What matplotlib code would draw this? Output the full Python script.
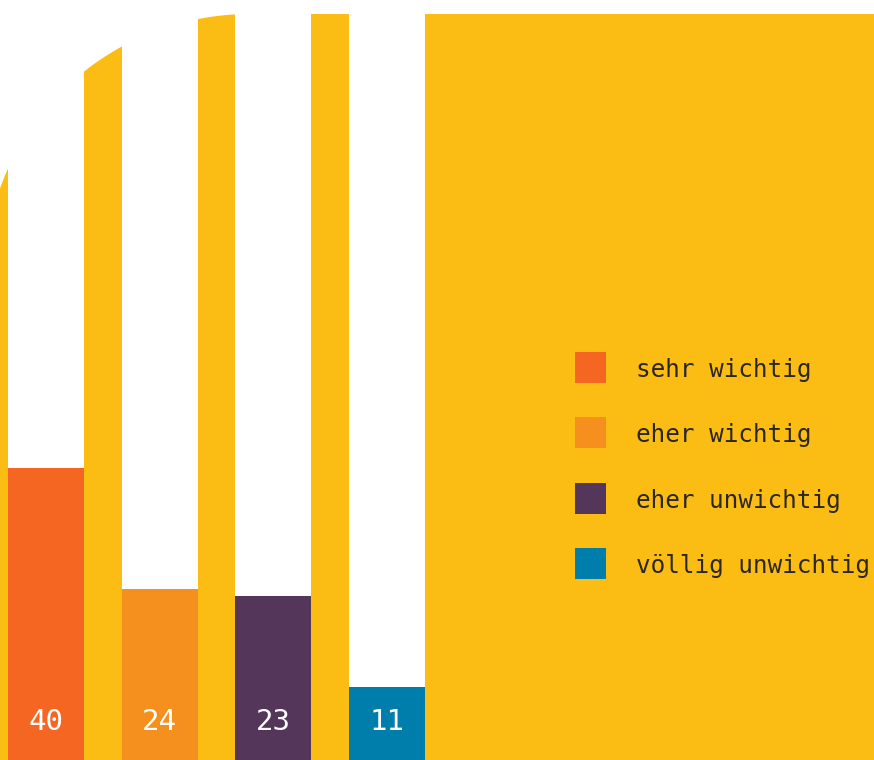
import numpy as np
import matplotlib
matplotlib.use("Agg")
import matplotlib.pyplot as plt
from matplotlib.patches import Polygon, Rectangle
from matplotlib.transforms import Affine2D

# --- data -------------------------------------------------------------
categories = ["sehr wichtig", "eher wichtig", "eher unwichtig", "völlig unwichtig"]
values = [40, 24, 23, 11]
colors = ["#F46622", "#F5901F", "#53365A", "#007EAB"]

# --- styling ----------------------------------------------------------
YELLOW = "#FBBD14"
TEXT = "#2B2620"
MONO = ["DejaVu Sans Mono"]

W, H = 874, 760
fig = plt.figure(figsize=(W / 100, H / 100), dpi=100, facecolor="white")

# pixel-space transform (origin top-left) for decorative shapes and legend
pix = Affine2D().scale(1 / W, -1 / H).translate(0, 1) + fig.transFigure

# axes: baseline sits slightly below the bottom edge, 100 % near the top
px_per_unit = 7.55
step = 113.67
ax = fig.add_axes([0, -10 / H, 1, 770 / H])
ax.set_xlim(-46 / step, (W - 46) / step)
ax.set_ylim(0, 770 / px_per_unit)
ax.axis("off")

# yellow panel with a large rounded top-left corner
cx, cy, a, b = 250, 275, 265, 261
t0 = np.arccos((0 - cx) / a)
ts = np.linspace(t0, np.pi / 2, 80)
arc = np.column_stack([cx + a * np.cos(ts), cy - b * np.sin(ts)])
pts = np.vstack([[0, H], arc, [W, 14], [W, H]])
ax.add_patch(Polygon(pts, closed=True, facecolor=YELLOW, edgecolor="none",
                     transform=pix, zorder=0, clip_on=False))

x = np.arange(len(values))
bw = 76 / step
top = ax.get_ylim()[1]

# white tracks behind each bar
ax.bar(x, [top] * len(values), width=bw, color="white", zorder=1)
# value bars
ax.bar(x, values, width=bw, color=colors, zorder=2)

for xi, v in zip(x, values):
    ax.text(xi, 6.4, str(v), ha="center", va="center", color="white",
            fontsize=21, family=MONO, zorder=3)

# legend
for i, (cat, col) in enumerate(zip(categories, colors)):
    y0 = 352 + 65.3 * i
    ax.add_patch(Rectangle((575, y0 + 31), 31, -31, facecolor=col, edgecolor="none",
                           transform=pix, clip_on=False, zorder=3))
    ax.text(636, y0 + 18, cat, transform=pix, ha="left", va="center",
            color=TEXT, fontsize=17.5, family=MONO, zorder=3)

fig.savefig("out.png", dpi=100, facecolor="white")
